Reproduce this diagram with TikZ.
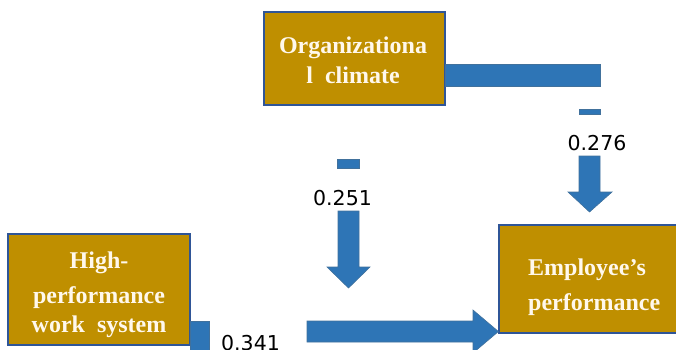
\documentclass[tikz,border=0pt]{standalone}
\usepackage{fontspec}
\newfontfamily\boxfont{Liberation Serif}
\newfontfamily\numfont{DejaVu Sans}
\definecolor{gold}{HTML}{BF8F00}
\definecolor{boxline}{HTML}{2F5597}
\definecolor{arrowfill}{HTML}{2E75B6}
\definecolor{arrowline}{HTML}{41719C}
\definecolor{cream}{HTML}{FFF8EC}
\tikzset{
  factor/.style={draw=boxline, line width=1.2pt, fill=gold, inner sep=0pt},
  factortext/.style={text=cream, inner sep=0pt, anchor=base,
    font=\boxfont\bfseries\fontsize{24}{30}\selectfont},
  flow/.style={fill=arrowfill, draw=arrowline, line width=0.6pt},
  coef/.style={inner sep=0pt, anchor=base, text=black,
    font=\numfont\fontsize{20.5}{24}\selectfont}
}
\begin{document}
\begin{tikzpicture}[x=1pt,y=-1pt]
\useasboundingbox (0,0) rectangle (676,349);
\clip (0,0) rectangle (676,349);

% the three factors
\node[factor, minimum width=181pt, minimum height=93pt] (org) at (354.5,58.5) {};
\node[factor, minimum width=182pt, minimum height=111pt] (hpws) at (99,289.5) {};
\node[factor, minimum width=179pt, minimum height=108pt] (emp) at (588.5,279) {};

% their names, one baseline per line
\node[factortext] (orgA) at (353,53) {Organizationa};
\node[factortext] (orgB) at (353,83) {l\ \ climate};
\node[factortext] (hpwsA) at (99,268) {High-};
\node[factortext] (hpwsB) at (99,303) {performance};
\node[factortext] (hpwsC) at (99,332) {work\ \ system};
\node[factortext, anchor=base west] (empA) at (528,275) {Employee’s};
\node[factortext, anchor=base west] (empB) at (528,310) {performance};

% path coefficients
\node[coef] (c276) at (597,150) {0.276};
\node[coef] (c251) at (342.5,205) {0.251};
\node[coef] (c341) at (250.5,350) {0.341};

% organizational climate -> employee's performance
\path[flow] (org.east |- 0,64) rectangle (600,86);
\path[flow] (579,109) rectangle (600,114);
\path[flow] (579,156) -- (600,156) -- (600,192) -- (612,192)
  -- (589.5,212) -- (568,192) -- (579,192) -- cycle;

% moderating path onto the main effect
\path[flow] (337,159) rectangle (359,168);
\path[flow] (338,211) -- (359,211) -- (359,267) -- (370,267)
  -- (348.5,288) -- (327,267) -- (338,267) -- cycle;

% high-performance work system -> employee's performance
\path[flow] (hpws.east |- 0,321) rectangle (209,355);
\path[flow] (307,321) -- (473,321) -- (473,310) -- (emp.west |- 0,331.5)
  -- (473,353) -- (473,342) -- (307,342) -- cycle;
\end{tikzpicture}
\end{document}
